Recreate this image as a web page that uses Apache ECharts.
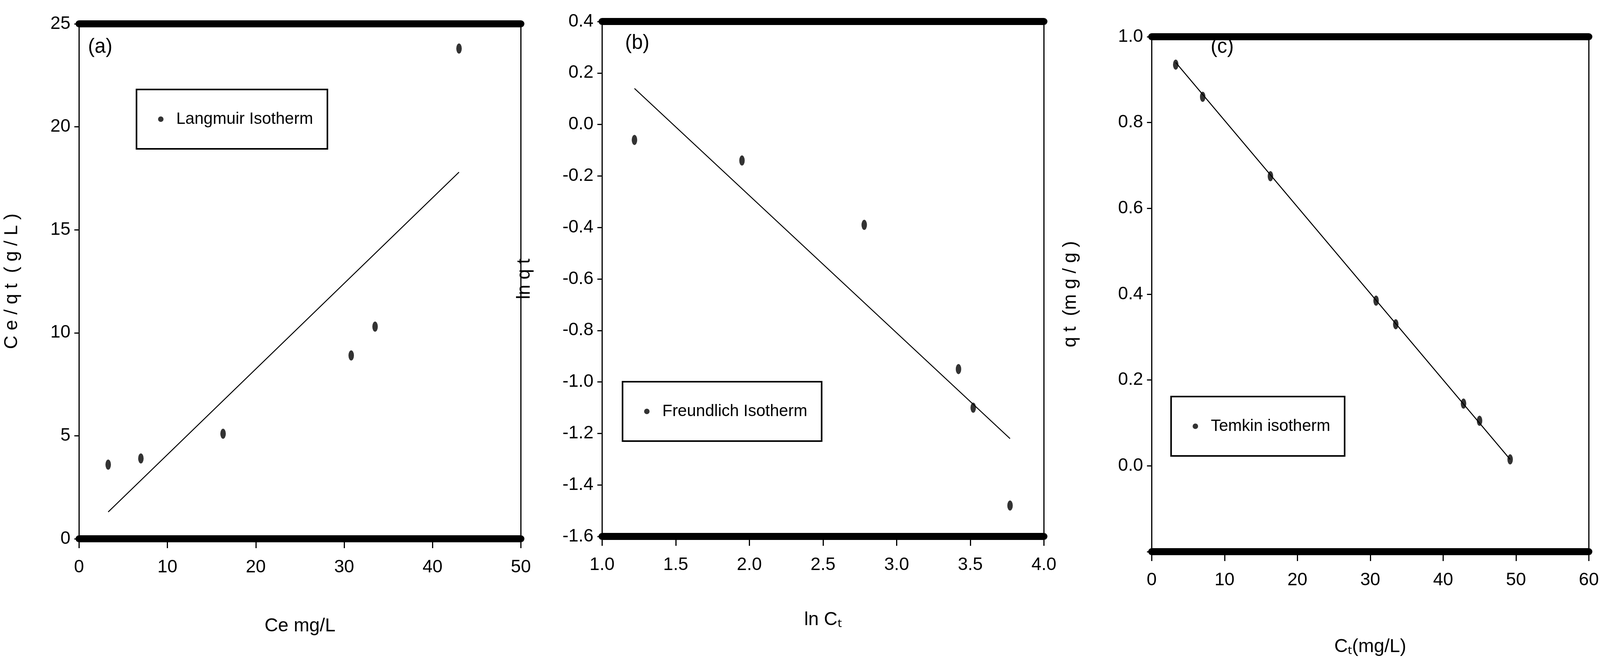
<!DOCTYPE html>
<html><head><meta charset="utf-8">
<script src="https://cdn.jsdelivr.net/npm/echarts@6/dist/echarts.min.js"></script>
<style>html,body{margin:0;background:#fff;width:100%;height:100%;overflow:hidden}#c{width:100vw;height:100vh}</style>
</head><body><div id="c"></div>
<script>
const langX=[3.3,7,16.3,30.8,33.5,43];
const langY=[3.6,3.9,5.1,8.9,10.3,23.8];
const langFit=[[3.3,1.3],[43,17.8]];
const freX=[1.22,1.95,2.78,3.42,3.52,3.77];
const freY=[-0.06,-0.14,-0.39,-0.95,-1.10,-1.48];
const freFit=[[1.22,0.14],[3.77,-1.22]];
const temX=[3.3,7,16.3,30.8,33.5,42.8,45,49.2];
const temY=[0.935,0.86,0.675,0.385,0.33,0.145,0.105,0.015];
const temFit=[[3.3,0.94],[49.2,0.015]];

const F='Liberation Sans Narrow, Liberation Sans, sans-serif';
const el=document.getElementById('c');
const chart=echarts.init(el);
const W=el.clientWidth/4454, H=el.clientHeight/1720;
const px=v=>v*W, py=v=>v*H;
const grids=[
 {left:px(220),width:px(1230),top:py(61),height:py(1318)},
 {left:px(1676),width:px(1230),top:py(55),height:py(1318)},
 {left:px(3206),width:px(1228),top:py(94),height:py(1318)}];
const xs=[
 {min:0,max:50,interval:10,name:'Ce mg/L',gap:200,fmt:v=>v},
 {min:1,max:4,interval:0.5,name:'ln C\u209c',gap:190,fmt:v=>v.toFixed(1)},
 {min:0,max:60,interval:10,name:'C\u209c(mg/L)',gap:220,fmt:v=>v}];
const ys=[
 {min:0,max:25,interval:5,name:'C e / q t  ( g / L )',fmt:v=>v},
 {min:-1.6,max:0.4,interval:0.2,name:'ln q t',fmt:v=>v.toFixed(1)},
 {min:-0.2,max:1.0,interval:0.2,name:'q t  (m g / g )',fmt:v=>v<-0.05?'':v.toFixed(1)}];
const fs=v=>Math.round(v*W);
const lab={fontFamily:F,fontSize:fs(50),color:'#000'};
const xAxis=[],yAxis=[];
xs.forEach((a,i)=>{
 xAxis.push({gridIndex:i,type:'value',min:a.min,max:a.max,interval:a.interval,name:a.name,nameLocation:'middle',nameGap:py(a.gap),nameTextStyle:{fontFamily:F,fontSize:fs(52),color:'#000'},
  axisLine:{onZero:false,lineStyle:{color:'#000',width:18}},axisTick:{length:py(24),lineStyle:{color:'#000',width:3}},axisLabel:{...lab,margin:py(50),formatter:a.fmt},splitLine:{show:false}});
 xAxis.push({gridIndex:i,type:'value',position:'top',min:a.min,max:a.max,axisLine:{onZero:false,lineStyle:{color:'#000',width:18}},axisTick:{show:false},axisLabel:{show:false},splitLine:{show:false}});
});
ys.forEach((a,i)=>{
 yAxis.push({gridIndex:i,type:'value',min:a.min,max:a.max,interval:a.interval,name:a.name,nameLocation:'middle',nameGap:px(i==0?160:(i==1?190:200)),nameTextStyle:{fontFamily:F,fontSize:fs(52),color:'#000'},
  axisLine:{onZero:false,lineStyle:{color:'#000',width:3}},axisTick:{length:12,lineStyle:{color:'#000',width:3}},axisLabel:{...lab,margin:px(24),formatter:a.fmt},splitLine:{show:false}});
 yAxis.push({gridIndex:i,type:'value',position:'right',min:a.min,max:a.max,axisLine:{onZero:false,lineStyle:{color:'#000',width:3}},axisTick:{show:false},axisLabel:{show:false},splitLine:{show:false}});
});
const sets=[[langX,langY,langFit,'Langmuir Isotherm'],[freX,freY,freFit,'Freundlich Isotherm'],[temX,temY,temFit,'Temkin isotherm']];
const series=[];
sets.forEach((s,i)=>{
 series.push({type:'scatter',name:s[3],xAxisIndex:2*i,yAxisIndex:2*i,data:s[0].map((x,j)=>[x,s[1][j]]),symbol:'circle',symbolSize:[14,26],itemStyle:{color:'#000'}});
 series.push({type:'line',xAxisIndex:2*i,yAxisIndex:2*i,data:s[2],symbol:'none',lineStyle:{color:'#000',width:2.5},silent:true});
});
const legPos=[{left:380,top:229,w:620,h:163},{left:1733,top:977,w:645,h:157},{left:3260,top:1015,w:560,h:163}];
const legend=sets.map((s,i)=>({data:[s[3]],left:px(legPos[i].left),top:py(legPos[i].top),
 padding:[py(55),px(40),py(55),px(60)],borderColor:'#000',borderWidth:4,itemWidth:14,itemHeight:26,itemGap:10,
 textStyle:{fontFamily:F,fontSize:fs(46),color:'#000',padding:[0,0,0,px(30)]}}));
chart.setOption({animation:false,backgroundColor:'#fff',grid:grids,xAxis,yAxis,series,legend,
 graphic:[
  {type:'text',left:px(245),top:py(95),style:{text:'(a)',font:fs(56)+'px '+F,fill:'#000'}},
  {type:'text',left:px(1740),top:py(85),style:{text:'(b)',font:fs(56)+'px '+F,fill:'#000'}},
  {type:'text',left:px(3370),top:py(95),style:{text:'(c)',font:fs(56)+'px '+F,fill:'#000'}}]});
</script></body></html>
